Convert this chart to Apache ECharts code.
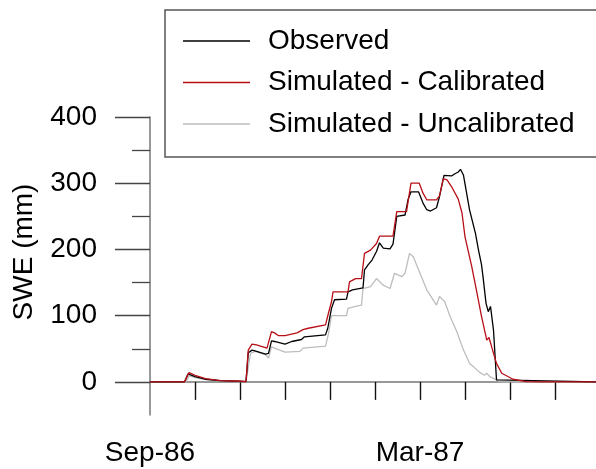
<!DOCTYPE html>
<html>
<head>
<meta charset="utf-8">
<script src="https://cdn.jsdelivr.net/npm/echarts@6/dist/echarts.min.js"></script>
<style>
  html, body { margin: 0; padding: 0; background: #fff; }
  #chart { width: 596px; height: 469px; }
</style>
</head>
<body>
<div id="chart"></div>
<script>
// Snow water equivalent, days counted from 1 Sep 1986
const seriesNames = ['Observed', 'Simulated - Calibrated', 'Simulated - Uncalibrated'];

const obsDays = [0, 23, 25.3, 30, 36.7, 46.7, 60, 64, 65.5, 68, 70, 77, 79, 81, 83, 90, 94.5, 101, 103, 117, 118.5, 121, 123, 131, 132, 135, 142, 143, 145.5, 148, 151, 153, 155.5, 160, 162, 164.5, 170, 172, 174, 179, 182, 184.5, 187, 191, 193, 196, 201, 203, 205.5, 207, 209, 213, 217, 219, 221, 222, 224, 225.5, 227, 229, 231, 232, 297.5];
const obsSwe = [0, 0, 12, 8, 4, 2, 1, 0.5, 44, 48, 47, 42, 43, 62, 61, 57, 61, 64, 68, 71, 81, 111, 124, 125, 136, 139, 142, 169, 177, 184, 197, 210, 202, 201, 208, 250, 252, 275, 287, 287, 270, 260, 258, 263, 280, 312, 311, 314, 317, 321, 312, 260, 224, 199, 177, 159, 119, 106, 114, 78, 3, 0, 0];

const calDays = [0, 23, 26, 30, 37, 47, 60, 64, 65.5, 68, 71, 78, 79, 81, 83, 85.5, 90, 91, 98, 102, 105.5, 117, 119, 121, 122, 132, 133, 137, 141, 143, 147, 151, 153, 162, 164.5, 171, 174, 179.5, 182, 184.5, 191, 193, 195.5, 198, 201, 205.5, 208, 210, 214.5, 218, 221, 224.5, 226, 229, 231, 234.5, 242, 251, 260, 297.5];
const calSwe = [0, 0, 14, 10, 5, 2, 1, 0.5, 48, 57, 56, 51, 49, 76, 74, 70, 70, 73, 74, 79, 81, 86, 104, 121, 136, 136, 151, 156, 156, 194, 199, 209, 220, 220, 257, 257, 300, 300, 285, 275, 275, 281, 307, 305, 295, 276, 255, 219, 174, 134, 99, 63, 67, 43, 28, 13, 4, 0.5, 0, 0];

const uncDays = [0, 24, 26, 33, 47, 60, 64, 67, 70, 77, 79, 81, 83, 90, 100, 102, 117, 119, 121, 131, 132, 137, 141, 142, 147, 151, 155.5, 160, 163, 168, 170, 173, 175.5, 180, 184.5, 191, 193, 196.5, 200, 204.5, 209, 213, 220, 223, 224.5, 226.5, 231, 233, 240, 297.5];
const uncSwe = [0, 0, 9, 5, 1.5, 0.5, 0, 43, 46, 41, 36, 53, 51, 45, 46, 51, 54, 73, 100, 100, 111, 114, 116, 141, 144, 156, 146, 141, 164, 159, 164, 194, 189, 164, 139, 116, 129, 121, 99, 76, 48, 28, 14, 10, 13, 8, 3, 0.5, 0, 0];

// Axis ticks and labels
const monthTickDays = [30, 60, 90, 120, 150, 180, 210, 240, 270];
const monthLabelDays = [0, 180];
const monthLabels = { 0: 'Sep-86', 180: 'Mar-87' };
const sweMajorTicks = [0, 100, 200, 300, 400];
const sweMinorTicks = [50, 150, 250, 350];

const pairs = (days, vals) => days.map((d, i) => [d, vals[i]]);

const font = '"Liberation Sans", Arial, Helvetica, sans-serif';
const chart = echarts.init(document.getElementById('chart'), null, { renderer: 'canvas' });

chart.setOption({
  animation: false,
  backgroundColor: '#ffffff',
  grid: { left: 150, right: 0, top: 117, bottom: 54, containLabel: false, outerBoundsMode: 'none' },
  legend: {
    orient: 'vertical',
    left: 165,
    top: 10,
    data: seriesNames,
    icon: 'rect',
    itemWidth: 67,
    itemHeight: 1.4,
    itemGap: 11.5,
    padding: [16, 60, 18, 18],
    borderColor: '#555',
    borderWidth: 1.5,
    textStyle: { fontFamily: font, fontSize: 28, color: '#000', lineHeight: 30, padding: [0, 0, 0, 13] }
  },
  xAxis: {
    type: 'value',
    min: 0,
    max: 297.33,
    axisLine: { onZero: true, lineStyle: { color: '#777', width: 1.5 } },
    axisTick: { show: true, customValues: monthTickDays, length: 18, lineStyle: { color: '#111', width: 1.4 } },
    axisLabel: {
      customValues: monthLabelDays,
      formatter: v => monthLabels[Math.round(v)] || '',
      margin: 24,
      fontFamily: font,
      fontSize: 28,
      color: '#000'
    },
    splitLine: { show: false }
  },
  yAxis: [
    {
      type: 'value',
      min: -50,
      max: 400,
      name: 'SWE (mm)',
      nameLocation: 'middle',
      nameGap: 112,
      nameTextStyle: { fontFamily: font, fontSize: 28, color: '#000', padding: [0, 0, 0, 28] },
      axisLine: { show: true, lineStyle: { color: '#777', width: 1.5 } },
      axisTick: { show: true, customValues: sweMajorTicks, length: 35, lineStyle: { color: '#444', width: 1.3 } },
      axisLabel: { customValues: sweMajorTicks, margin: 53, fontFamily: font, fontSize: 28, color: '#000' },
      splitLine: { show: false }
    },
    {
      type: 'value',
      min: -50,
      max: 400,
      position: 'left',
      axisLine: { show: false },
      axisTick: { show: true, customValues: sweMinorTicks, length: 18, lineStyle: { color: '#444', width: 1.3 } },
      axisLabel: { show: false },
      splitLine: { show: false }
    }
  ],
  series: [
    {
      name: seriesNames[0], type: 'line', data: pairs(obsDays, obsSwe), z: 3,
      symbol: 'none', showSymbol: false, color: '#000',
      lineStyle: { color: '#000', width: 1.3 }
    },
    {
      name: seriesNames[1], type: 'line', data: pairs(calDays, calSwe), z: 4,
      symbol: 'none', showSymbol: false, color: '#b80f17',
      lineStyle: { color: '#b80f17', width: 1.3 }
    },
    {
      name: seriesNames[2], type: 'line', data: pairs(uncDays, uncSwe), z: 2,
      symbol: 'none', showSymbol: false, color: '#bdbdbd',
      lineStyle: { color: '#bdbdbd', width: 1.3 }
    }
  ]
});
</script>
</body>
</html>
